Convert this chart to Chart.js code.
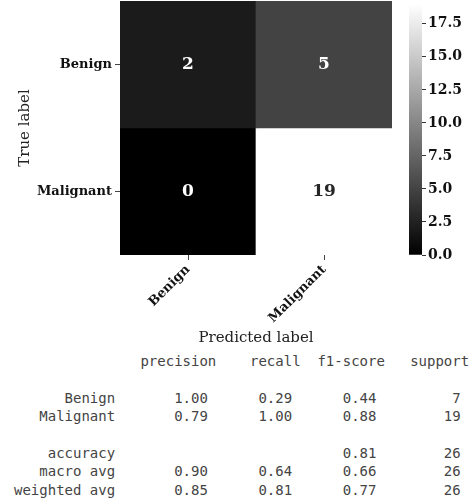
<!DOCTYPE html>
<html>
<head>
<meta charset="utf-8">
<script src="https://cdn.jsdelivr.net/npm/chart.js@4"></script>
<style>
  html, body { margin: 0; padding: 0; background: #fff; }
  body { width: 473px; height: 501px; position: relative; overflow: hidden; }
  #heat { position: absolute; left: 0; top: 0; }
  #cbar { position: absolute; left: 409px; top: 0; }
  #report {
    position: absolute; left: 14px; top: 352px; margin: 0;
    font: 14px "DejaVu Sans Mono", monospace; line-height: 18.4px; color: #444;
  }
</style>
</head>
<body>
<canvas id="heat" width="400" height="348"></canvas>
<canvas id="cbar" width="64" height="270"></canvas>
<pre id="report"></pre>
<script>
// confusion matrix data
const predLabels = ['Benign', 'Malignant'];
const trueLabels = ['Benign', 'Malignant'];
const rowBenign = [2, 5];
const rowMalignant = [0, 19];
const matrix = [rowBenign, rowMalignant];
const cbarTicks = [0, 2.5, 5, 7.5, 10, 12.5, 15, 17.5];

// classification report data
const reportClasses = ['Benign', 'Malignant'];
const precision = [1.00, 0.79];
const recall = [0.29, 1.00];
const f1score = [0.44, 0.88];
const support = [7, 19];
const accuracy = 0.81;
const totalSupport = 26;
const macroAvg = [0.90, 0.64, 0.66];
const weightedAvg = [0.85, 0.81, 0.77];

const vmin = 0;
const vmax = Math.max(...matrix.flat());
const serif = '"DejaVu Serif", serif';

// gray colormap
function grayFor(v) {
  const g = Math.round((v - vmin) / (vmax - vmin) * 255);
  return `rgb(${g},${g},${g})`;
}

// no extra room for edge labels, keep plot area where it belongs
const noEdgePad = s => { s.paddingTop = 0; s.paddingBottom = 0; };

const cellText = {
  id: 'cellText',
  afterDatasetsDraw(chart) {
    const {ctx, scales: {x, y}} = chart;
    ctx.save();
    ctx.font = `bold 17px ${serif}`;
    ctx.textAlign = 'center';
    ctx.textBaseline = 'middle';
    matrix.forEach((row, i) => {
      row.forEach((v, j) => {
        ctx.fillStyle = v < (vmax + vmin) / 2 ? '#ffffff' : '#262626';
        ctx.fillText(String(v), x.getPixelForValue(j), y.getPixelForValue(i + 0.5));
      });
    });
    ctx.restore();
  }
};

new Chart(document.getElementById('heat'), {
  type: 'bar',
  data: {
    labels: predLabels,
    datasets: matrix.map((row, i) => ({
      label: trueLabels[i],
      data: row.map(() => [i, i + 1]),
      backgroundColor: row.map(grayFor),
      borderWidth: 0,
      grouped: false,
      barPercentage: 1,
      categoryPercentage: 1
    }))
  },
  options: {
    responsive: false,
    animation: false,
    layout: { padding: { top: 1, right: 8, left: 0, bottom: 0 } },
    plugins: { legend: { display: false }, tooltip: { enabled: false } },
    scales: {
      x: {
        offset: true,
        grid: { offset: false, drawOnChartArea: false, tickLength: 5, color: '#444' },
        border: { display: false },
        ticks: {
          minRotation: 45, maxRotation: 45, padding: 2,
          color: '#111', font: { family: serif, size: 13, weight: 'bold' }
        },
        title: {
          display: true, text: 'Predicted label', color: '#222',
          font: { family: serif, size: 15 }, padding: { top: 0, bottom: 1 }
        },
        afterFit: s => { s.height = 93; s.paddingLeft = 0; s.paddingRight = 0; }
      },
      y: {
        min: 0, max: 2, reverse: true,
        afterBuildTicks: s => { s.ticks = [{ value: 0.5 }, { value: 1.5 }]; },
        grid: { drawOnChartArea: false, tickLength: 5, color: '#444' },
        border: { display: false },
        ticks: {
          padding: 3, color: '#111',
          font: { family: serif, size: 13, weight: 'bold' },
          callback: v => trueLabels[Math.floor(v)]
        },
        title: {
          display: true, text: 'True label', color: '#222',
          font: { family: serif, size: 15 }, padding: { top: 16, bottom: 0 }
        },
        afterFit: s => { s.width = 120; noEdgePad(s); }
      }
    }
  },
  plugins: [cellText]
});

// colorbar
new Chart(document.getElementById('cbar'), {
  type: 'bar',
  data: {
    labels: [''],
    datasets: [{
      data: [[vmin, vmax]],
      backgroundColor: (c) => {
        const area = c.chart.chartArea;
        if (!area) return '#888';
        const g = c.chart.ctx.createLinearGradient(0, area.bottom, 0, area.top);
        g.addColorStop(0, '#000000');
        g.addColorStop(1, '#ffffff');
        return g;
      },
      borderWidth: 0,
      barPercentage: 1,
      categoryPercentage: 1
    }]
  },
  options: {
    responsive: false,
    animation: false,
    layout: { padding: { top: 4, bottom: 15, left: 0, right: 0 } },
    plugins: { legend: { display: false }, tooltip: { enabled: false } },
    scales: {
      x: { display: false },
      y: {
        position: 'right',
        min: vmin, max: vmax,
        afterBuildTicks: s => { s.ticks = cbarTicks.map(v => ({ value: v })); },
        grid: { drawOnChartArea: false, tickLength: 4, color: '#333' },
        border: { display: false },
        ticks: {
          padding: 2, color: '#111',
          font: { family: serif, size: 14, weight: 'bold' },
          callback: v => Number(v).toFixed(1)
        },
        afterFit: s => { s.width = 51; noEdgePad(s); }
      }
    }
  }
});

// classification report text
const cell = (v) => ' ' + String(v).padStart(9);
const fmt = (v) => v.toFixed(2);
const lines = [];
lines.push(' ' + ' '.repeat(12) + ' ' + ['precision', 'recall', 'f1-score', 'support'].map(cell).join(''));
lines.push('');
reportClasses.forEach((c, i) => {
  lines.push(c.padStart(12) + ' ' + [fmt(precision[i]), fmt(recall[i]), fmt(f1score[i]), support[i]].map(cell).join(''));
});
lines.push('');
lines.push('accuracy'.padStart(12) + ' ' + ['', '', fmt(accuracy), totalSupport].map(cell).join(''));
lines.push('macro avg'.padStart(12) + ' ' + [...macroAvg.map(fmt), totalSupport].map(cell).join(''));
lines.push('weighted avg'.padStart(12) + ' ' + [...weightedAvg.map(fmt), totalSupport].map(cell).join(''));
document.getElementById('report').textContent = lines.join('\n');
</script>
</body>
</html>
